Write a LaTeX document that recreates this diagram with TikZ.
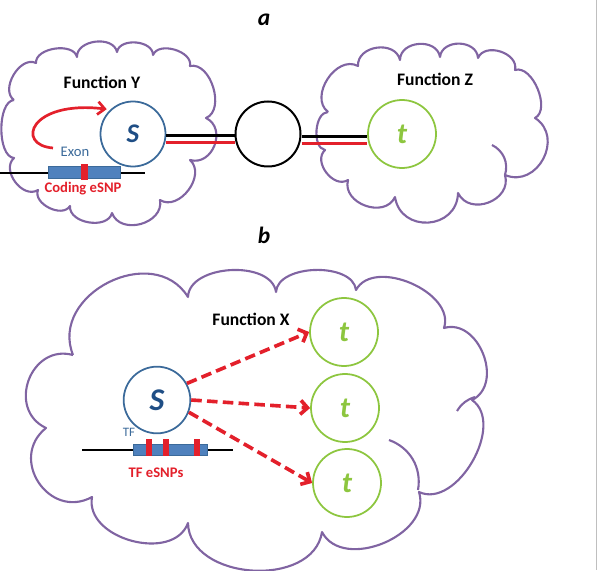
\documentclass[tikz,border=0pt]{standalone}
\usepackage{fontspec}
\setmainfont{Carlito}
\usetikzlibrary{arrows.meta}
\definecolor{cloudpurple}{HTML}{8064A2}
\definecolor{sblue}{HTML}{3B6A9A}
\definecolor{sletter}{HTML}{1F4E85}
\definecolor{tgreen}{HTML}{8DC63F}
\definecolor{snpred}{HTML}{E3202B}
\definecolor{exonblue}{HTML}{4F81BD}

\begin{document}
\begin{tikzpicture}[x=0.03cm, y=-0.03cm,
  cloudline/.style={draw=cloudpurple, line width=1.8pt, line join=round},
  puff/.style={bend left=85, looseness=#1},
  snode/.style={circle, draw=sblue, line width=1.5pt, fill=white, text=sletter, minimum size=1.95cm, inner sep=0pt},
  tnode/.style={circle, draw=tgreen, line width=1.5pt, fill=white, text=tgreen, minimum size=2.04cm, inner sep=0pt,
                font=\fontsize{25}{25}\selectfont\bfseries\itshape},
  midnode/.style={circle, draw=black, line width=1.7pt, fill=white, minimum size=1.95cm, inner sep=0pt},
  fnlabel/.style={font=\fontsize{15}{15}\selectfont\bfseries},
  dbl/.style={line width=2.5pt},
  geneline/.style={line width=2.4pt},
  exonbar/.style={fill=exonblue, draw=sblue, line width=0.8pt},
  curvearrow/.style={snpred, line width=2.3pt, -{Straight Barb[length=6pt,width=11pt]}},
  dasharrow/.style={snpred, line width=3.1pt, dash pattern=on 9pt off 4.5pt, -{Straight Barb[length=6pt,width=12pt]}}]
\useasboundingbox (0,0) rectangle (600,570);
%================================================================
%	Part a
\node[font=\fontsize{20}{20}\selectfont\bfseries\itshape] (lbla) at (264,20) {a};
%----------------------------------------------------------------
\draw[cloudline] (14,100) to[puff=1.05] (36,63) to[puff=0.95] (77,57) to[puff=1.1] (117,52) to[puff=1.05] (153,55)
  to[puff=1.0] (190,66) to[puff=1.0] (206,118) to[puff=1.35] (190,160) to[puff=1.15] (160,200) to[puff=1.25] (112,213)
  to[puff=1.05] (70,206) to[puff=1.05] (38,190) to[puff=1.15] (14,158) to[puff=0.75] (14,100);
\draw[cloudline] (328,112) to[puff=1.15] (358,66) to[puff=1.25] (400,60) to[puff=1.25] (440,57) to[puff=1.25] (478,58)
  to[puff=1.15] (515,70) to[puff=0.9] (535,118) to[puff=1.4] (505,175) to[puff=1.35] (458,193) to[puff=1.5] (395,197)
  to[puff=1.25] (348,180) to[puff=1.15] (325,150) to[puff=0.9] (328,112);
\draw[cloudline] (492,145) to[bend left=40] (505,175);
%----------------------------------------------------------------
\node[fnlabel] (fnY) at (102,82) {Function Y};
\node[fnlabel] (fnZ) at (435,79) {Function Z};
\node[snode, font=\fontsize{23}{23}\selectfont\bfseries\itshape] (sY) at (133,134) {S};
\node[midnode] (mid) at (268,134) {};
\node[tnode] (tZ) at (402,134) {t};
%----------------------------------------------------------------
\draw[black, dbl] ([yshift=-1pt]sY.east) -- ([yshift=-1pt]mid.west);
\draw[snpred, dbl] ([yshift=-7.5pt]sY.east) -- ([yshift=-7.5pt]mid.west);
\draw[black, dbl] ([yshift=-2.5pt]mid.east) -- ([yshift=-2.5pt]tZ.west);
\draw[snpred, dbl] ([yshift=-8.5pt]mid.east) -- ([yshift=-8.5pt]tZ.west);
%----------------------------------------------------------------
\draw[geneline] (0,173) -- (145,173);
\draw[exonbar] (48,166) rectangle (120,178);
\fill[snpred] (81,164) rectangle (88,180);
\node[font=\fontsize{12.5}{12.5}\selectfont, text=sblue] (exon) at (75,152) {Exon};
\node[font=\fontsize{12.5}{12.5}\selectfont\bfseries, text=snpred] (codsnp) at (83,189) {Coding eSNP};
\coordinate (arcstart) at (53,148);
\draw[curvearrow, shorten >=3pt] (arcstart) .. controls (15,145) and (30,100) .. (sY.133);
%================================================================
%	Part b
\node[font=\fontsize{20}{20}\selectfont\bfseries\itshape] (lblb) at (264,235) {b};
%----------------------------------------------------------------
\draw[cloudline] (73,355) to[puff=1.3] (188,297) to[puff=0.95] (276,292) to[puff=0.9] (356,290) to[puff=1.0] (444,328)
  to[puff=1.2] (472,400) to[puff=1.0] (419,492) to[puff=1.1] (322,532) to[puff=1.1] (188,523) to[puff=1.1] (92,497)
  to[puff=1.5] (46,428) to[puff=1.45] (73,355);
\draw[cloudline] (389,440) to[bend left=40] (418,490);
\draw[cloudline] (457,411) to[bend left=20] (475,397);
%----------------------------------------------------------------
\node[fnlabel] (fnX) at (251,319) {Function X};
\node[snode, minimum size=2cm, font=\fontsize{27}{27}\selectfont\bfseries\itshape] (sX) at (157,400) {S};
\node[tnode] (tX1) at (344,332) {t};
\node[tnode] (tX2) at (345,408) {t};
\node[tnode] (tX3) at (347,483) {t};
%----------------------------------------------------------------
\draw[dasharrow] (sX.29) -- (tX1.west);
\draw[dasharrow] (sX.east) -- (tX2.west);
\draw[dasharrow] (sX.-21) -- (tX3.west);
%----------------------------------------------------------------
\node[font=\fontsize{11}{11}\selectfont, text=sblue] (tf) at (129,432) {TF};
\draw[geneline] (82,450) -- (233,450);
\draw[exonbar] (133,444) rectangle (207,455);
\fill[snpred] (146,439) rectangle (152,456);
\fill[snpred] (163,439) rectangle (169,456);
\fill[snpred] (194,439) rectangle (200,456);
\node[font=\fontsize{12.5}{12.5}\selectfont\bfseries, text=snpred] (tfsnp) at (156,473) {TF eSNPs};
%================================================================
%	Page edge
\draw[gray!50, line width=0.8pt] (596.5,0) -- (596.5,570);
\end{tikzpicture}
\end{document}
